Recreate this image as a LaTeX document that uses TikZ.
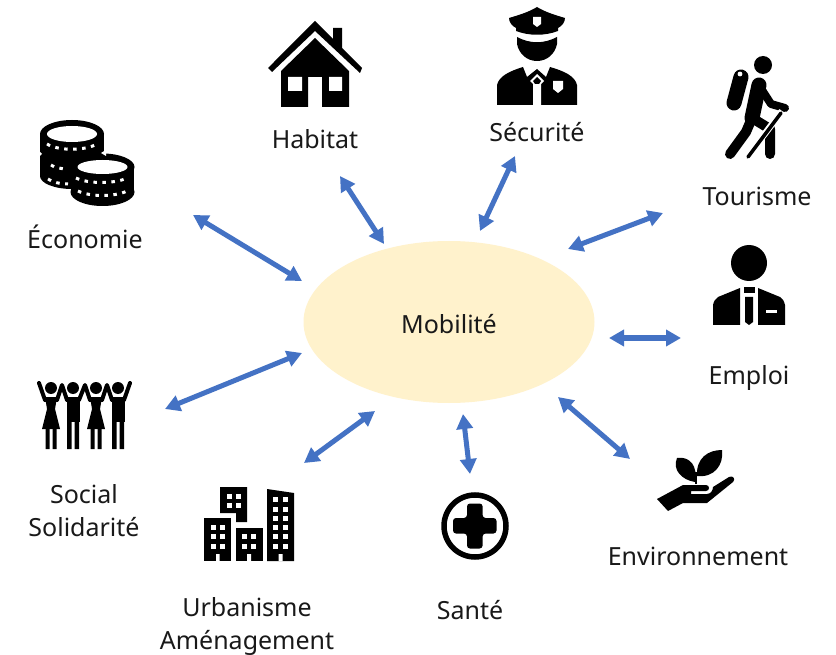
\documentclass[tikz,border=0pt]{standalone}
\usepackage{fontspec}
\setmainfont{Noto Sans}
\usetikzlibrary{arrows.meta,shapes.geometric}
\definecolor{arrowblue}{HTML}{4472C4}
\definecolor{hubfill}{HTML}{FFF2CC}
\tikzset{
  lab/.style={font=\fontsize{25}{33}\selectfont,align=center,inner sep=0pt,text=black!90},
  link/.style={arrowblue,line width=5pt,{Triangle[length=15pt,width=16pt]}-{Triangle[length=15pt,width=16pt]}},
  ico/.style={fill=black,draw=none},
  hole/.style={fill=white,draw=none},
}
\begin{document}
\begin{tikzpicture}[x=1pt,y=-1pt]
\useasboundingbox (0,0) rectangle (836,655);
\fill[white] (0,0) rectangle (836,655);
% hub
\node[ellipse,fill=hubfill,minimum width=291pt,minimum height=162pt,inner sep=0pt] (hub) at (449,322) {};
\node[lab] (mob) at (449,324) {Mobilité};
% labels
\node[lab] (eco) at (85,237) {Économie};
\node[lab] (hab) at (315,139) {Habitat};
\node[lab] (sec) at (537,132) {Sécurité};
\node[lab] (tou) at (757,196) {Tourisme};
\node[lab] (emp) at (749,378) {Emploi};
\node[lab] (env) at (698,556) {Environnement};
\node[lab] (san) at (470,610) {Santé};
\node[lab] (urb) at (247,626) {Urbanisme\\Aménagement};
\node[lab] (soc) at (84,510.5) {Social\\Solidarité};
% arrows
\coordinate (a1) at (193,215); \coordinate (b1) at (302,281);
\coordinate (a2) at (340,176); \coordinate (b2) at (384,244);
\coordinate (a3) at (515,156); \coordinate (b3) at (480,231);
\coordinate (a4) at (663,213); \coordinate (b4) at (568,249);
\coordinate (a5) at (681,338); \coordinate (b5) at (609,338);
\coordinate (a6) at (630,459); \coordinate (b6) at (558,397);
\coordinate (a7) at (470,474); \coordinate (b7) at (463,414);
\coordinate (a8) at (304,463); \coordinate (b8) at (375,411);
\coordinate (a9) at (165,409); \coordinate (b9) at (302,353);
\foreach \i in {1,...,9} \draw[link] (a\i) -- (b\i);
% house
\fill[ico] (315,21) -- (333,39) -- (333,28) -- (342,28) -- (342,48) -- (362,68) -- (360,73) -- (315,31) -- (272,72) -- (268,68) -- cycle;
\fill[ico] (315,38) -- (349,71) -- (349,107) -- (322,107) -- (322,77) -- (308,77) -- (308,107) -- (281,107) -- (281,71) -- cycle;
\fill[hole] (288,77) rectangle (302,91) (329,77) rectangle (342,91);
% police
\fill[ico] (537,7) .. controls (545,12) and (555,15) .. (565,18) .. controls (565,22) and (562,26) .. (558,28) -- (558,31) .. controls (545,36) and (529,36) .. (516,31) -- (516,28) .. controls (512,26) and (509,22) .. (509,18) .. controls (519,15) and (529,12) .. (537,7) -- cycle;
\fill[hole] (533,17) -- (541,17) -- (541,24) -- (537,27) -- (533,24) -- cycle;
\fill[ico] (517,37) .. controls (530,44) and (544,44) .. (557,37) -- (557,44) .. controls (555,54) and (547,61) .. (537,61) .. controls (527,61) and (519,54) .. (517,44) -- cycle;
\fill[ico] (497,105) -- (497,85) .. controls (499,76) and (510,71) .. (523,67) -- (527,77) -- (537,69) -- (546,77) -- (550,67) .. controls (564,71) and (575,76) .. (577,85) -- (577,105) -- cycle;
\fill[hole] (537,74) -- (544,81) -- (541,84) -- (541,105) -- (533,105) -- (533,84) -- (530,81) -- cycle;
\fill[ico] (537,77) -- (541,81) -- (539,84) -- (535,84) -- (533,81) -- cycle;
\fill[hole] (553,81) -- (563,81) -- (563,89) -- (558,93) -- (553,89) -- cycle;
% hiker
\fill[ico] (763,65) circle[radius=9];
\draw[black,line width=15pt,line cap=round] (741,77) -- (734,103);
\fill[hole] (740,74) circle[radius=2.4];
\draw[black,line width=15pt,line cap=round] (759,85) -- (752,118);
\draw[black,line width=8pt,line cap=round,line join=round] (762,90) -- (771,104) -- (785,108);
\draw[black,line width=10pt,line cap=round,line join=round] (752,118) -- (746,132) -- (730,154);
\draw[black,line width=10pt,line cap=round,line join=round] (752,118) -- (770,129) -- (770,154);
\draw[white,line width=6.5pt] (782,111) -- (748,156);
\draw[black,line width=3.5pt,line cap=round] (781,113) -- (748,157);
% business person
\fill[ico] (749,263) circle[radius=18];
\fill[ico] (713,325) -- (713,305) .. controls (714,301) and (715,299) .. (718,297) -- (740,288) -- (740,325) -- cycle;
\fill[ico] (785,325) -- (785,305) .. controls (784,301) and (783,299) .. (780,297) -- (758,288) -- (758,325) -- cycle;
\fill[ico] (744,287) -- (755,287) -- (755,293) -- (744,293) -- cycle;
\fill[ico] (745,297) -- (753,297) -- (753,322) -- (749,325) -- (745,322) -- cycle;
\fill[hole] (766,310) rectangle (777,313);
% coins
\fill[ico] (72,134) ellipse[x radius=32,y radius=14];
\fill[ico] (40,134) rectangle (104,176);
\fill[ico] (72,176) ellipse[x radius=32,y radius=13];
\fill[ico] (71,167) rectangle (134,192);
\fill[ico] (102.5,167) ellipse[x radius=32,y radius=13.5];
\fill[ico] (102.5,192) ellipse[x radius=32,y radius=14];
\fill[hole] (72,134) ellipse[x radius=25,y radius=8];
\fill[hole] (102.5,167) ellipse[x radius=25,y radius=7];
\fill[hole] (38,150) -- (42,154) -- (38,158) -- cycle (106,150) -- (101,153) -- (106,156) -- cycle;
\begin{scope}[white,line width=3pt,dash pattern=on 3.5pt off 5.5pt]
\draw (47,144) .. controls (58,151) and (85,151) .. (97,144);
\draw (51,165) .. controls (55,168) and (60,168) .. (64,169);
\draw (48,179) .. controls (52,182) and (60,184) .. (68,184);
\draw (76,178) .. controls (88,184) and (115,184) .. (127,178);
\draw (78,191) .. controls (90,197) and (115,197) .. (127,191);
\end{scope}
% crowd
\fill[ico] (51,388) circle[radius=6] (73,388) circle[radius=6] (96,388) circle[radius=6] (118,388) circle[radius=6];
\draw[black,line width=4pt,line cap=round,line join=round] (39,383) -- (45,400) (57,400) -- (62,385) -- (67,400) (79,400) -- (85,385) -- (90,400) (102,400) -- (107,385) -- (112,400) (124,400) -- (130,383);
\foreach \cx in {51,96}{
  \fill[ico] (\cx-6,397) -- (\cx+6,397) -- (\cx+4,409) -- (\cx+9,429) -- (\cx-9,429) -- (\cx-4,409) -- cycle;
  \fill[ico] (\cx-5.5,429) rectangle (\cx-1.5,449) (\cx+1.5,429) rectangle (\cx+5.5,449);
}
\foreach \cx in {73,118}{
  \fill[ico] (\cx-6.5,397) rectangle (\cx+6.5,422);
  \fill[ico] (\cx-6,422) rectangle (\cx-1.5,449) (\cx+1.5,422) rectangle (\cx+6,449);
}
% buildings
\fill[ico] (220,487) -- (247,487) -- (247,522) -- (236,522) -- (236,513) -- (220,513) -- cycle;
\fill[ico] (204,518) rectangle (231,561);
\fill[ico] (236,528) rectangle (263,561);
\fill[ico] (267,489) -- (294,493) -- (294,561) -- (267,561) -- cycle;
\foreach \wx in {227,236}\foreach \wy in {494,503}\fill[hole] (\wx,\wy) rectangle +(4.8,4.8);
\foreach \wx in {211,220}\foreach \wy in {525,534,544}\fill[hole] (\wx,\wy) rectangle +(4.8,4.8);
\foreach \wx in {242,251}\foreach \wy in {534,544}\fill[hole] (\wx,\wy) rectangle +(4.8,4.8);
\foreach \wx in {273,283}\foreach \wy in {497,507,516,525,534,544}\fill[hole] (\wx,\wy) rectangle +(4.8,4.8);
\fill[hole] (216,554) rectangle (219.6,561) (247,554) rectangle (251,561) (278.5,554) rectangle (282.5,561);
% health
\draw[black,line width=5.5pt] (475,526) circle[radius=31];
\fill[ico,rounded corners=3pt] (467,503.5) -- (482.6,503.5) -- (482.6,518) -- (496.5,518) -- (496.5,533.5) -- (482.6,533.5) -- (482.6,548.5) -- (467,548.5) -- (467,533.5) -- (453,533.5) -- (453,518) -- (467,518) -- cycle;
% hand and plant
\fill[ico] (695,482) .. controls (698,466) and (690,456) .. (677,458) .. controls (672,470) and (682,480) .. (695,482) -- cycle;
\fill[ico] (697,476) .. controls (696,458) and (708,450) .. (722,450) .. controls (724,465) and (714,478) .. (697,476) -- cycle;
\draw[black,line width=2.5pt] (696,484) -- (696,472);
\fill[ico] (657,499) -- (683,485) -- (706,485) .. controls (710,485) and (710,491) .. (706,491) -- (691,491) -- (691,494) -- (707,494) .. controls (711,494) and (713,490) .. (713,487) -- (729,477) .. controls (733,475) and (736,479) .. (733,482) -- (707,503) -- (683,503) -- (668,511) -- cycle;
\end{tikzpicture}
\end{document}
